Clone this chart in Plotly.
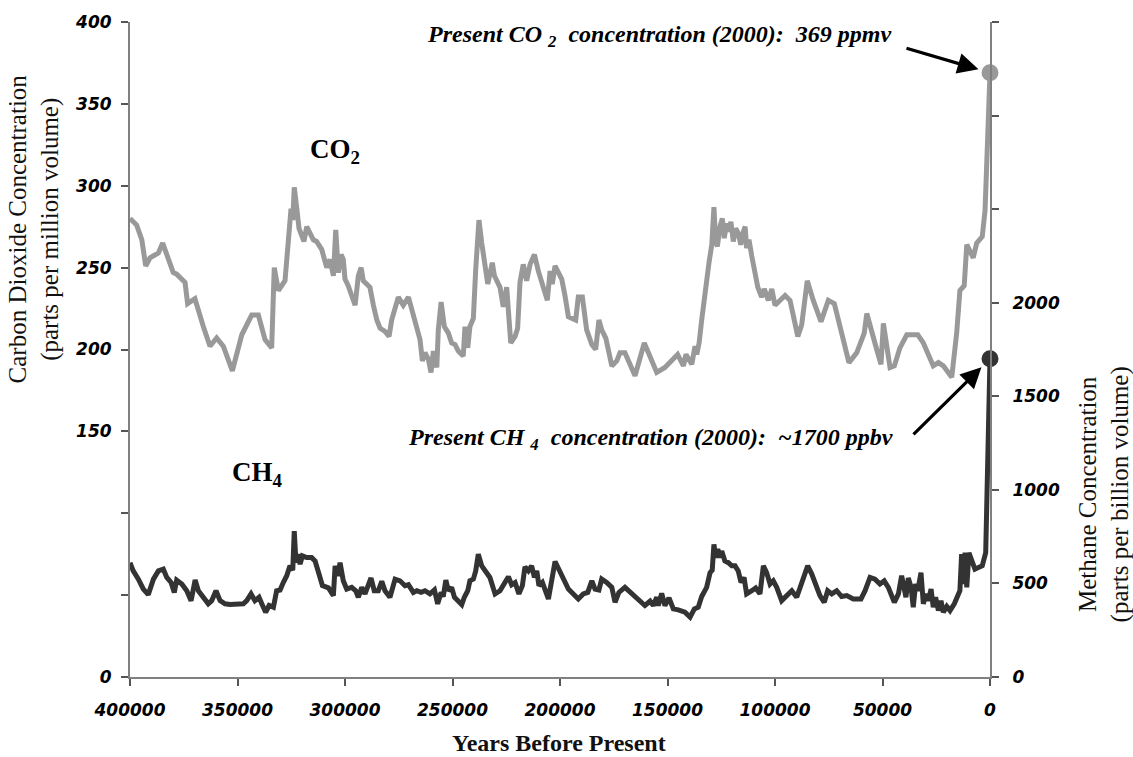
import plotly.graph_objects as go

# Vostok ice-core record: years before present vs. gas concentration
co2_age = [
    400000, 396900, 394500, 392700, 390700, 386800, 384800, 382200, 379900, 378300,
    374400, 373200, 369800, 365900, 362800, 359700, 356600, 352400, 348000, 343400,
    340300, 337200, 334100, 332900, 331000, 327900, 325100, 324300, 323600, 322500,
    321400, 319100, 317800, 314700, 313200, 310800, 308500, 307000, 305400, 304300,
    303100, 301800, 300800, 300000, 298500, 296900, 295300, 293800, 292500, 291500,
    288400, 286800, 285200, 283700, 281400, 279500, 278300, 275200, 272900, 270500,
    267400, 265100, 264000, 262800, 261200, 260000, 258900, 257300, 256600, 255300,
    253800, 251900, 250400, 248800, 247300, 245000, 244200, 242900, 241900, 240300,
    239200, 237700, 236400, 234900, 233600, 232600, 231500, 230500, 227900, 226400,
    224800, 222900, 220900, 219700, 218600, 217100, 215500, 213900, 211900, 210100,
    207800, 205900, 204600, 203600, 202300, 200500, 199200, 197700, 196100, 192700,
    191500, 189600, 187600, 185200, 183400, 181900, 180600, 178700, 175900, 173600,
    172100, 169800, 165100, 160800, 155000, 151200, 145300, 142600, 141400, 138700,
    137200, 136400, 135300, 134100, 132600, 130700, 129400, 128400, 127600, 126800,
    125600, 124500, 123600, 122500, 121400, 120500, 119400, 118300, 117100, 115900,
    114700, 113900, 113200, 112100, 110800, 109300, 108000, 106200, 105000, 103100,
    101500, 100000, 95300, 93000, 89400, 87600, 85000, 82200, 78600, 75200,
    72400, 69000, 65600, 62000, 58500, 57300, 55000, 52700, 50700, 49600,
    48000, 46500, 44500, 41900, 38700, 33600, 31000, 28700, 26400, 24000,
    21700, 17800, 15500, 14000, 12000, 10800, 9300, 7800, 6200, 3600,
    2300, 800, 0,
]
co2_ppmv = [
    280, 276, 267, 251, 256, 259, 265, 255, 247, 246,
    241, 228, 231, 214, 202, 207, 202, 187, 209, 221,
    221, 206, 201, 250, 236, 242, 286, 279, 299, 287,
    274, 266, 275, 267, 266, 261, 250, 255, 245, 273,
    247, 258, 255, 243, 239, 233, 227, 245, 250, 242,
    238, 227, 218, 213, 211, 208, 218, 232, 227, 232,
    218, 206, 193, 198, 194, 186, 199, 189, 212, 229,
    214, 210, 204, 203, 199, 196, 214, 201, 214, 219,
    249, 279, 265, 251, 240, 246, 253, 245, 238, 226,
    238, 204, 208, 213, 241, 252, 242, 252, 258, 248,
    239, 230, 248, 240, 251, 247, 243, 233, 220, 218,
    232, 232, 212, 203, 200, 218, 212, 207, 190, 193,
    198, 198, 184, 204, 186, 189, 197, 190, 197, 191,
    202, 197, 204, 218, 235, 253, 264, 287, 266, 263,
    275, 280, 268, 277, 272, 278, 266, 274, 271, 264,
    272, 275, 262, 267, 257, 247, 238, 232, 237, 230,
    237, 227, 233, 230, 208, 215, 242, 230, 217, 230,
    228, 210, 192, 198, 210, 222, 210, 200, 191, 216,
    202, 189, 190, 201, 209, 209, 204, 197, 190, 192,
    190, 183, 210, 236, 239, 264, 260, 256, 265, 269,
    285, 344, 369,
]

ch4_age = [
    400000, 398500, 396100, 393800, 391500, 389100, 386800, 384500, 382900, 380900,
    379400, 378300, 375900, 373600, 371600, 369700, 368200, 365900, 363600, 362000,
    360000, 358100, 355800, 353500, 350400, 347300, 345700, 343700, 341900, 340000,
    338700, 336900, 335300, 333300, 331800, 330200, 328700, 327100, 325600, 324300,
    323600, 322800, 322000, 320900, 319800, 317800, 315500, 313900, 312100, 310500,
    307700, 305400, 304600, 303400, 302300, 300800, 299200, 296900, 295000, 293800,
    292200, 290700, 287900, 286400, 284500, 282900, 281400, 279100, 276700, 274400,
    272100, 270500, 268200, 266600, 264600, 262800, 260500, 258400, 256900, 255300,
    254300, 253100, 251900, 250400, 249100, 247300, 245700, 244500, 242900, 241900,
    240300, 239200, 238000, 236400, 234500, 232600, 230200, 227900, 225900, 224000,
    222500, 220900, 219100, 217500, 216300, 214700, 213200, 211900, 210800, 209800,
    208200, 207000, 205400, 202300, 200000, 197700, 196100, 193800, 191500, 189200,
    187100, 185200, 183700, 181900, 180600, 178300, 175900, 174400, 172600, 169800,
    167400, 164300, 160500, 158100, 156600, 155000, 154300, 152700, 151200, 149300,
    147300, 145000, 141900, 139500, 137500, 135700, 134100, 131800, 130200, 129200,
    128400, 127600, 126600, 125600, 124800, 123300, 121700, 120100, 118600, 117100,
    115800, 114400, 113200, 110800, 109000, 107000, 105400, 103900, 102300, 100800,
    99200, 96900, 94600, 92200, 89900, 87600, 84800, 82900, 80600, 79100,
    77100, 75500, 73600, 71300, 69000, 66600, 63600, 60000, 58100, 55800,
    53500, 51200, 49200, 47300, 44500, 42600, 41100, 39900, 39100, 38000,
    36700, 35700, 34600, 33600, 32100, 31000, 29900, 28700, 27400, 26400,
    25300, 24000, 22800, 21700, 20100, 18600, 16600, 14000, 13200, 12400,
    11600, 10800, 9800, 7000, 5400, 3600, 2000, 0,
]
ch4_ppbv = [
    611, 567, 523, 470, 440, 523, 567, 576, 532, 505,
    452, 518, 497, 461, 408, 518, 461, 426, 391, 408,
    461, 408, 391, 387, 387, 391, 408, 444, 408, 426,
    391, 346, 382, 373, 461, 465, 505, 541, 594, 571,
    780, 611, 656, 603, 647, 638, 638, 620, 550, 488,
    476, 435, 594, 541, 611, 514, 470, 479, 461, 426,
    479, 444, 529, 461, 461, 511, 461, 426, 523, 514,
    488, 493, 452, 461, 452, 461, 444, 465, 391, 452,
    430, 518, 461, 479, 426, 408, 387, 426, 461, 514,
    523, 567, 656, 594, 567, 532, 444, 461, 500, 536,
    493, 505, 444, 488, 589, 567, 594, 532, 567, 488,
    505, 461, 417, 617, 567, 514, 470, 444, 417, 444,
    452, 514, 470, 465, 523, 505, 479, 399, 452, 479,
    452, 417, 382, 405, 382, 426, 382, 447, 382, 423,
    364, 359, 346, 320, 364, 373, 430, 479, 558, 571,
    709, 638, 683, 638, 673, 620, 611, 594, 594, 567,
    505, 532, 444, 461, 476, 444, 594, 558, 497, 514,
    479, 408, 435, 461, 426, 497, 594, 550, 479, 435,
    399, 461, 444, 461, 430, 435, 417, 417, 461, 532,
    523, 497, 514, 479, 399, 444, 541, 461, 426, 529,
    479, 373, 497, 461, 558, 391, 444, 408, 470, 373,
    426, 355, 408, 346, 377, 355, 391, 461, 656, 497,
    664, 479, 664, 576, 585, 594, 664, 1700,
]

present_co2 = 369
present_ch4 = 1700

year_ticks = list(range(0, 400001, 50000))
year_labels = [str(v) for v in year_ticks]
co2_ticks = list(range(0, 401, 50))
co2_labels = ["0", "", "", "150", "200", "250", "300", "350", "400"]
ch4_ticks = list(range(0, 3501, 500))
ch4_labels = ["0", "500", "1000", "1500", "2000", "", "", ""]

CO2_GREY = "#999999"
CH4_GREY = "#333333"
AXIS_GREY = "#808080"
SERIF = "Liberation Serif"
tick_font = dict(family="DejaVu Sans", size=17, color="black", weight="bold", style="italic")

fig = go.Figure()

fig.add_trace(go.Scatter(
    x=co2_age, y=co2_ppmv, mode="lines", yaxis="y",
    line=dict(color=CO2_GREY, width=5), hoverinfo="skip",
))
fig.add_trace(go.Scatter(
    x=ch4_age, y=ch4_ppbv, mode="lines", yaxis="y2",
    line=dict(color=CH4_GREY, width=5), hoverinfo="skip",
))
fig.add_trace(go.Scatter(
    x=[0], y=[present_co2], mode="markers", yaxis="y", cliponaxis=False,
    marker=dict(color=CO2_GREY, size=17), hoverinfo="skip",
))
fig.add_trace(go.Scatter(
    x=[0], y=[present_ch4], mode="markers", yaxis="y2", cliponaxis=False,
    marker=dict(color=CH4_GREY, size=17), hoverinfo="skip",
))

axis_common = dict(
    showgrid=False, zeroline=False, showline=True, linecolor=AXIS_GREY, linewidth=2,
    ticks="outside", ticklen=7, tickwidth=1.5, tickcolor="#555555", tickfont=tick_font,
)

fig.update_layout(
    width=1133, height=757,
    margin=dict(l=130, r=143, t=17, b=80),
    paper_bgcolor="white", plot_bgcolor="white",
    showlegend=False,
    xaxis=dict(range=[400000, 0], tickvals=year_ticks, ticktext=year_labels,
               ticklabelstandoff=10, **axis_common),
    yaxis=dict(range=[0, 400], tickvals=co2_ticks, ticktext=co2_labels,
               ticklabelstandoff=6, **axis_common),
    yaxis2=dict(range=[0, 3500], tickvals=ch4_ticks, ticktext=ch4_labels,
                overlaying="y", side="right", anchor="x", ticklabelstandoff=10, **axis_common),
)

label_font = dict(family=SERIF, size=24, color="black", weight="bold", style="italic")
title_font = dict(family=SERIF, size=25, color="#111111")
series_font = dict(family=SERIF, size=27, color="black", weight="bold")

annotations = [
    # arrows pointing at the present-day values
    dict(x=0, y=present_co2, xref="x", yref="y", ax=-85, ay=-25, text="",
         showarrow=True, arrowhead=2, arrowsize=1.3, arrowwidth=3.2, arrowcolor="black", standoff=12),
    dict(x=0, y=present_ch4, xref="x", yref="y2", ax=-78, ay=77, text="",
         showarrow=True, arrowhead=2, arrowsize=1.3, arrowwidth=3.2, arrowcolor="black", standoff=12),
    dict(x=0.887, y=0.978, xref="paper", yref="paper", xanchor="right", yanchor="middle",
         text=f"Present CO <sub>2</sub>  concentration (2000):  {present_co2} ppmv",
         showarrow=False, font=label_font),
    dict(x=0.889, y=0.364, xref="paper", yref="paper", xanchor="right", yanchor="middle",
         text=f"Present CH <sub>4</sub>  concentration (2000):  ~{present_ch4} ppbv",
         showarrow=False, font=label_font),
    # series labels
    dict(x=304600, y=321, xref="x", yref="y", xanchor="center", yanchor="middle",
         text="CO<sub>2</sub>", showarrow=False, font=series_font),
    dict(x=340500, y=124, xref="x", yref="y", xanchor="center", yanchor="middle",
         text="CH<sub>4</sub>", showarrow=False, font=series_font),
    # axis titles
    dict(x=(34 - 130) / 860, y=(677 - 226) / 660, xref="paper", yref="paper",
         xanchor="center", yanchor="middle",
         text="Carbon Dioxide Concentration<br>(parts per million volume)",
         textangle=-90, showarrow=False, font=title_font, align="center"),
    dict(x=(1104 - 130) / 860, y=(677 - 493) / 660, xref="paper", yref="paper",
         xanchor="center", yanchor="middle",
         text="Methane Concentration<br>(parts per billion volume)",
         textangle=-90, showarrow=False, font=title_font, align="center"),
    dict(x=(559 - 130) / 860, y=(677 - 743) / 660, xref="paper", yref="paper",
         xanchor="center", yanchor="middle",
         text="Years Before Present", showarrow=False,
         font=dict(family=SERIF, size=24, color="#111111", weight="bold")),
]
fig.update_layout(annotations=annotations)

fig.write_html("out.html")
